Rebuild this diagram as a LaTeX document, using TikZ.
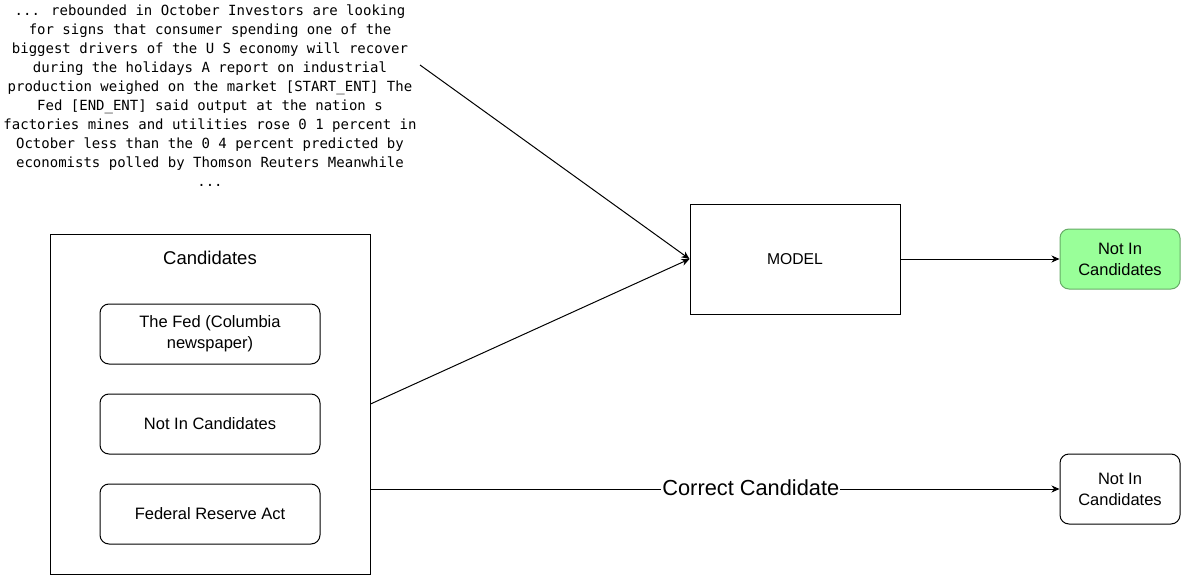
\documentclass[tikz,border=0pt]{standalone}
\usepackage{fontspec}
\setmainfont{Liberation Sans}
\newfontfamily\monofont{DejaVu Sans Mono}
\usepackage{tikz}
\usetikzlibrary{arrows.meta}
\tikzstyle{box}=[draw, inner sep = 0, font = \fontsize{16.5}{21}\selectfont, align = center]
\tikzstyle{cand}=[box, rounded corners = 9pt, minimum width = 220pt, minimum height = 60pt]
\tikzstyle{result}=[box, rounded corners = 9pt, minimum width = 120pt]
\tikzstyle{arr}=[-{Stealth[length = 8pt, width = 7pt, inset = 2.5pt]}]

\begin{document}
\begin{tikzpicture}[x = 1pt, y = -1pt, line width = 1pt]
\useasboundingbox (0, 0) rectangle (1181, 575);
\node (ctx) at (210, 95.5) [inner sep = 0, align = center, font = \monofont\fontsize{14}{19}\selectfont] {%
... rebounded in October Investors are looking\\
for signs that consumer spending one of the\\
biggest drivers of the U S economy will recover\\
during the holidays A report on industrial\\
production weighed on the market [START\_ENT] The\\
Fed [END\_ENT] said output at the nation s\\
factories mines and utilities rose 0 1 percent in\\
October less than the 0 4 percent predicted by\\
economists polled by Thomson Reuters Meanwhile\\
...};
\coordinate (ctxend) at (420, 65);
%%%%%%%%%%%%%%%%%%%%%%%
\node (candbox) at (210, 404) [box, minimum width = 320pt, minimum height = 340pt] {};
\node (candtitle) at (210, 258) [inner sep = 0, font = \fontsize{18.5}{22}\selectfont] {Candidates};
\node (c1) at (210, 334) [cand] {The Fed (Columbia\\newspaper)};
\node (c2) at (210, 424) [cand] {Not In Candidates};
\node (c3) at (210, 514) [cand] {Federal Reserve Act};
%%%%%%%%%%%%%%%%%%%%%%%
\node (model) at (795, 259) [box, minimum width = 210pt, minimum height = 110pt, font = \fontsize{15.7}{20}\selectfont] {MODEL};
\node (pred) at (1120, 259) [result, minimum height = 60pt, fill = green!40!white, draw = green!45!black!60] {Not In\\Candidates};
\node (gold) at (1120, 489) [result, minimum height = 70pt] {Not In\\Candidates};
%%%%%%%%%%%%%%%%%%%%%%%
%%%%%%%%%%%%%%%%%%%%%%%
\draw [arr] (ctxend) to (model.west);
\draw [arr] (candbox.east) to (model.west);
\draw [arr] (model.east) to (pred.west);
\draw [arr] (candbox.east |- gold.west) to node [pos = .552, yshift = 1pt, fill = white, inner sep = 1pt, font = \fontsize{21.8}{26}\selectfont] {Correct Candidate} (gold.west);
\end{tikzpicture}
\end{document}
